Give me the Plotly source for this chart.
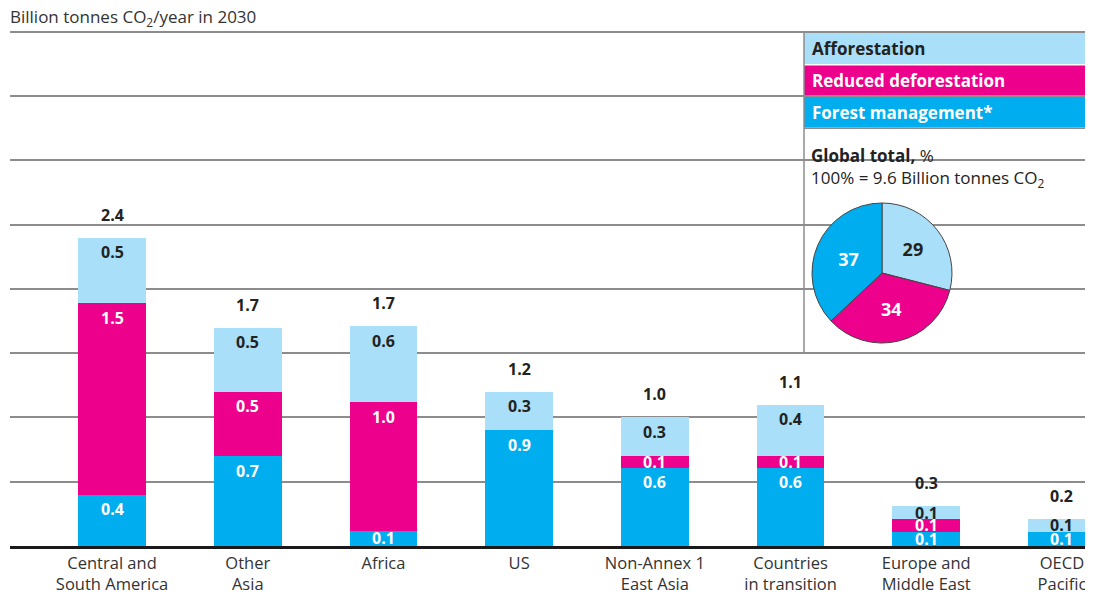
import plotly.graph_objects as go

categories = ["Central and<br>South America", "Other<br>Asia", "Africa", "US",
              "Non-Annex 1<br>East Asia", "Countries<br>in transition",
              "Europe and<br>Middle East", "OECD<br>Pacific"]
forest_management = [0.40, 0.70, 0.12, 0.90, 0.61, 0.61, 0.11, 0.11]
reduced_deforestation = [1.49, 0.50, 1.00, 0.00, 0.09, 0.09, 0.10, 0.00]
afforestation = [0.51, 0.50, 0.59, 0.30, 0.30, 0.40, 0.10, 0.10]

pie_labels = ["Afforestation", "Reduced deforestation", "Forest management*"]
pie_values = [29, 34, 37]

C_AFF = "#a9dff8"
C_RED = "#ec008c"
C_FM = "#00adee"
FONT = "Open Sans"
Y_MAX = 4.015
PLOT_H = 516
PX_PER_UNIT = PLOT_H / Y_MAX

fig = go.Figure()
series = [("Forest management*", forest_management, C_FM, "white"),
          ("Reduced deforestation", reduced_deforestation, C_RED, "white"),
          ("Afforestation", afforestation, C_AFF, "#222222")]
base = [0.0] * len(categories)
for name, vals, col, tcol in series:
    fig.add_trace(go.Bar(
        x=categories, y=vals, name=name, marker=dict(color=col, line=dict(width=0)),
        width=0.5, showlegend=False, hoverinfo="skip"))
    for i, (cat, v) in enumerate(zip(categories, vals)):
        top = base[i] + v
        if v > 0:
            seg_px = v * PX_PER_UNIT
            fig.add_annotation(x=cat, y=top, text=f"<b>{v:.1f}</b>", showarrow=False,
                               yanchor="middle", yshift=-min(14.5, seg_px / 2),
                               font=dict(family=FONT, size=16, color=tcol))
        base[i] = top

totals = base
for cat, t in zip(categories, totals):
    fig.add_annotation(x=cat, y=t, text=f"<b>{t:.1f}</b>", showarrow=False,
                       yanchor="middle", yshift=23,
                       font=dict(family=FONT, size=16, color="#222222"))

def py(px):
    return (546 - px) / PLOT_H

def pxx(px):
    return (px - 10) / 1083

fig.add_trace(go.Pie(
    labels=pie_labels, values=pie_values, sort=False, direction="clockwise",
    rotation=0, marker=dict(colors=[C_AFF, C_RED, C_FM], line=dict(color="#444444", width=1)),
    textinfo="value", textposition="inside", insidetextorientation="horizontal",
    textfont=dict(family=FONT, size=18, color=["#222222", "white", "white"], weight="bold"),
    domain=dict(x=[pxx(812), pxx(952)], y=[py(343), py(203)]), showlegend=False, hoverinfo="skip"))

PX0 = pxx(804)
shapes = [
    dict(type="rect", xref="paper", yref="paper", x0=PX0, x1=1.01, y0=py(351), y1=py(33),
         fillcolor="white", line=dict(width=0), layer="between"),
    dict(type="rect", xref="paper", yref="paper", x0=PX0, x1=1.01, y0=py(64), y1=py(33),
         fillcolor=C_AFF, line=dict(width=0), layer="between"),
    dict(type="rect", xref="paper", yref="paper", x0=PX0, x1=1.01, y0=py(96), y1=py(65.5),
         fillcolor=C_RED, line=dict(width=0), layer="between"),
    dict(type="rect", xref="paper", yref="paper", x0=PX0, x1=1.01, y0=py(127.5), y1=py(97),
         fillcolor=C_FM, line=dict(width=0), layer="between"),
    dict(type="line", xref="paper", yref="paper", x0=PX0, x1=1.01, y0=py(96.2), y1=py(96.2),
         line=dict(color="#8c8c8c", width=1.5), layer="between"),
    dict(type="line", xref="paper", yref="paper", x0=PX0, x1=1.01, y0=py(128.3), y1=py(128.3),
         line=dict(color="#8c8c8c", width=1.5), layer="between"),
    dict(type="line", xref="paper", yref="paper", x0=PX0, x1=PX0, y0=py(353), y1=py(32),
         line=dict(color="#8c8c8c", width=1.5), layer="between"),
]
fig.update_layout(shapes=shapes)

legend_text = [("Afforestation", 48.5, "#222222"), ("Reduced deforestation", 80.5, "white"),
               ("Forest management*", 112.5, "white")]
for t, ypx, col in legend_text:
    fig.add_annotation(xref="paper", yref="paper", x=pxx(810), y=py(ypx),
                       xanchor="left", yanchor="middle", text=f"<b>{t}</b>", showarrow=False,
                       font=dict(family=FONT, size=17, color=col))

fig.add_annotation(xref="paper", yref="paper", x=pxx(809), y=py(142),
                   xanchor="left", yanchor="top", align="left", showarrow=False,
                   text="<b>Global total,</b> %<br>100% = 9.6 Billion tonnes CO<sub>2</sub>",
                   font=dict(family=FONT, size=17, color="#222222"))

fig.add_annotation(xref="paper", yref="paper", x=pxx(8), y=py(18), xanchor="left", yanchor="middle",
                   text="Billion tonnes CO<sub>2</sub>/year in 2030", showarrow=False,
                   font=dict(family=FONT, size=17, color="#333333"))

fig.update_layout(
    barmode="stack", width=1085, height=586,
    margin=dict(l=2, r=0, t=22, b=48, autoexpand=False),
    paper_bgcolor="white", plot_bgcolor="white",
    font=dict(family=FONT, size=17, color="#333333"),
    xaxis=dict(range=[-0.752, 7.229], showgrid=False, showline=True, linecolor="#1a1a1a",
               linewidth=3, ticks="", ticklabelstandoff=0, automargin=False,
               tickfont=dict(family=FONT, size=16.5, color="#333333")),
    yaxis=dict(range=[0, Y_MAX], dtick=0.5, showgrid=True, gridcolor="#8c8c8c", gridwidth=1.5,
               showticklabels=False, zeroline=False, ticks="", automargin=False),
)

fig.write_html("out.html")
